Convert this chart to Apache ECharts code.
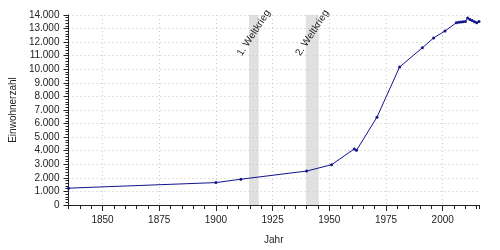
<!DOCTYPE html>
<html>
<head>
<meta charset="utf-8">
<script src="https://cdn.jsdelivr.net/npm/echarts@6/dist/echarts.min.js"></script>
<style>
html,body{margin:0;padding:0;background:#fff;}
#chart{width:500px;height:250px;}
</style>
</head>
<body>
<div id="chart"></div>
<script>
// Data
const years = [1835, 1900, 1911, 1940, 1951, 1961, 1962, 1971, 1981, 1991, 1996, 2001, 2006, 2007, 2008, 2009, 2010, 2011, 2012, 2013, 2014, 2015, 2016];
const population = [1240, 1650, 1900, 2500, 2970, 4130, 4030, 6470, 10170, 11580, 12310, 12820, 13430, 13460, 13480, 13500, 13530, 13770, 13670, 13590, 13510, 13430, 13520];
const warStart = [1914.58, 1939.67];
const warEnd = [1918.86, 1945.35];
const warLabels = ['1. Weltkrieg', '2. Weltkrieg'];
const xMajorTicks = [1850, 1875, 1900, 1925, 1950, 1975, 2000];

const FONT = 'Liberation Sans, Arial, sans-serif';
const TXT = '#222';

const lineData = years.map((y, i) => [y, population[i]]);
const areas = warStart.map((s, i) => [
  { xAxis: s, name: warLabels[i] },
  { xAxis: warEnd[i] }
]);

const chart = echarts.init(document.getElementById('chart'), null, { renderer: 'canvas' });
chart.setOption({
  animation: false,
  backgroundColor: '#fff',
  grid: { left: 67, right: 21, top: 15, bottom: 44, containLabel: false },
  xAxis: [{
    type: 'value', min: 1835, max: 2016, interval: 5, z: 2,
    name: 'Jahr', nameLocation: 'middle', nameGap: 30,
    nameTextStyle: { fontFamily: FONT, fontSize: 10, color: TXT },
    axisLine: { show: true, onZero: false, lineStyle: { color: '#222', width: 1 } },
    axisTick: { show: true, length: 4, lineStyle: { color: '#222' } },
    axisLabel: { customValues: xMajorTicks, margin: 10, fontFamily: FONT, fontSize: 10, color: TXT,
      formatter: v => String(v) },
    splitLine: { show: false }
  }, {
    type: 'value', min: 1835, max: 2016, position: 'bottom', z: 2,
    axisLine: { show: false },
    axisTick: { show: true, customValues: xMajorTicks, length: 6, lineStyle: { color: '#222' } },
    axisLabel: { show: false },
    splitLine: { show: true, lineStyle: { color: '#c8c8c8', type: [1, 3], width: 1 } }
  }],
  yAxis: {
    type: 'value', min: 0, max: 14000, interval: 1000, z: 2,
    name: 'Einwohnerzahl', nameLocation: 'middle', nameGap: 47,
    nameTextStyle: { fontFamily: FONT, fontSize: 10, color: TXT },
    axisLine: { show: true, lineStyle: { color: '#222', width: 1 } },
    axisTick: { show: true, length: 5, lineStyle: { color: '#222' } },
    minorTick: { show: true, splitNumber: 5, length: 3, lineStyle: { color: '#222' } },
    axisLabel: {
      margin: 9, fontFamily: FONT, fontSize: 10, color: TXT,
      formatter: v => String(v).replace(/\B(?=(\d{3})+(?!\d))/g, '.')
    },
    splitLine: { show: true, lineStyle: { color: '#c8c8c8', type: [1, 3], width: 1 } }
  },
  series: [{
    type: 'line', z: 1, data: lineData, silent: true,
    showSymbol: false, lineStyle: { opacity: 0 },
    markArea: {
      silent: true,
      itemStyle: { color: '#e0e0e0' },
      label: {
        show: true, position: ['50%', 18], rotate: 57,
        align: 'center', verticalAlign: 'middle',
        fontFamily: FONT, fontSize: 10, color: TXT
      },
      data: areas
    }
  }, {
    type: 'line', z: 3, data: lineData,
    symbol: 'circle', symbolSize: 3, showSymbol: true, showAllSymbol: true,
    lineStyle: { color: '#14148c', width: 1 },
    itemStyle: { color: '#14148c' }
  }]
});
</script>
</body>
</html>
